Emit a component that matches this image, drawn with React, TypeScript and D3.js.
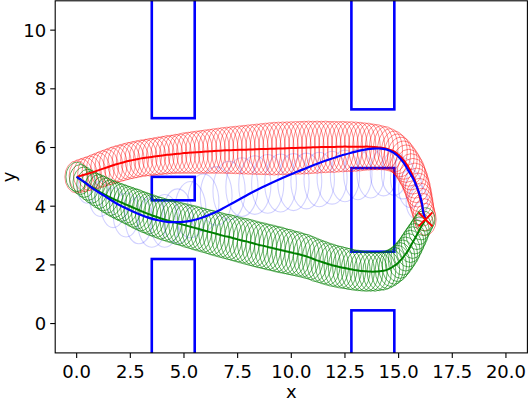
import React from 'react';
import * as d3 from 'd3';

// track points: [x, y, rx, ry] (rx/ry = spread of the ellipse in data units)
const redTrack: number[][] = [
  [0.0, 5.0, .55, .55], [0.2, 5.04, .55, .57], [0.4, 5.08, .55, .58], [0.6, 5.12, .55, .59], [0.8, 5.17, .55, .6],
  [1.0, 5.22, .55, .61], [1.2, 5.27, .55, .62], [1.4, 5.32, .55, .62], [1.6, 5.37, .55, .63], [1.8, 5.42, .55, .63],
  [2.0, 5.46, .55, .63], [2.2, 5.5, .55, .63], [2.4, 5.54, .55, .63], [2.6, 5.57, .55, .63], [2.8, 5.6, .55, .63],
  [3.0, 5.63, .55, .63], [3.2, 5.65, .55, .63], [3.4, 5.67, .55, .64], [3.6, 5.69, .55, .64], [3.8, 5.71, .55, .65],
  [4.0, 5.73, .55, .65], [4.2, 5.75, .54, .66], [4.4, 5.76, .54, .66], [4.6, 5.78, .54, .67], [4.8, 5.79, .54, .68],
  [5.0, 5.81, .54, .69], [5.2, 5.82, .54, .7], [5.4, 5.83, .53, .71], [5.6, 5.84, .53, .72], [5.8, 5.85, .53, .73],
  [6.0, 5.86, .53, .74], [6.2, 5.87, .53, .75], [6.4, 5.88, .53, .76], [6.6, 5.89, .52, .77], [6.8, 5.9, .52, .78],
  [7.0, 5.905, .52, .79], [7.2, 5.91, .52, .8], [7.4, 5.915, .52, .81], [7.6, 5.92, .52, .82], [7.8, 5.925, .52, .83],
  [8.0, 5.93, .52, .84], [8.2, 5.935, .52, .85], [8.4, 5.94, .52, .86], [8.6, 5.945, .52, .87], [8.8, 5.95, .52, .88],
  [9.0, 5.955, .52, .89], [9.2, 5.96, .52, .9], [9.4, 5.965, .52, .9], [9.6, 5.97, .52, .9], [9.8, 5.975, .52, .9],
  [10.0, 5.98, .52, .9], [10.2, 5.985, .52, .9], [10.4, 5.99, .52, .9], [10.6, 5.995, .52, .9], [10.8, 6.0, .52, .9],
  [11.0, 6.005, .52, .89], [11.2, 6.01, .52, .89], [11.4, 6.015, .52, .88], [11.6, 6.02, .52, .88], [11.8, 6.02, .52, .87],
  [12.0, 6.02, .52, .87], [12.2, 6.025, .52, .86], [12.4, 6.03, .52, .86], [12.6, 6.03, .52, .85], [12.8, 6.03, .52, .85],
  [13.0, 6.03, .53, .84], [13.2, 6.03, .53, .83], [13.4, 6.03, .54, .81], [13.6, 6.03, .54, .8], [13.8, 6.02, .55, .78],
  [14.0, 6.01, .55, .77], [14.2, 5.99, .56, .75], [14.4, 5.97, .57, .74], [14.6, 5.92, .58, .72], [14.8, 5.86, .6, .7],
  [14.95, 5.78, .61, .68], [15.1, 5.68, .62, .67], [15.23, 5.57, .63, .65], [15.35, 5.45, .64, .64], [15.47, 5.31, .64, .63],
  [15.58, 5.17, .64, .62], [15.67, 5.02, .63, .61], [15.76, 4.87, .62, .6], [15.83, 4.71, .61, .59], [15.9, 4.55, .6, .58],
  [15.96, 4.38, .58, .57], [16.02, 4.22, .56, .57], [16.08, 4.05, .54, .56], [16.13, 3.88, .52, .56], [16.19, 3.71, .51, .55],
  [16.25, 3.55, .5, .55],
];

const greenTrack: number[][] = [
  [0.0, 5.0, .5, .5], [0.18, 4.91, .51, .51], [0.35, 4.82, .52, .52], [0.53, 4.73, .53, .53], [0.7, 4.65, .54, .55],
  [0.88, 4.57, .54, .56], [1.05, 4.5, .55, .58], [1.23, 4.43, .55, .59], [1.4, 4.36, .56, .6], [1.58, 4.29, .56, .61],
  [1.75, 4.23, .57, .62], [1.93, 4.17, .57, .63], [2.1, 4.12, .58, .64], [2.28, 4.06, .58, .65], [2.45, 4.01, .58, .66],
  [2.63, 3.95, .58, .67], [2.8, 3.9, .59, .68], [2.98, 3.84, .59, .68], [3.15, 3.79, .59, .69], [3.33, 3.74, .59, .69],
  [3.5, 3.69, .6, .7], [3.7, 3.64, .6, .7], [3.9, 3.59, .6, .71], [4.1, 3.54, .6, .71], [4.3, 3.5, .6, .72],
  [4.5, 3.46, .6, .72], [4.7, 3.42, .6, .73], [4.9, 3.38, .6, .73], [5.1, 3.34, .6, .74], [5.3, 3.3, .6, .74],
  [5.5, 3.26, .6, .75], [5.7, 3.22, .6, .75], [5.9, 3.18, .6, .75], [6.1, 3.14, .6, .75], [6.3, 3.1, .61, .76],
  [6.5, 3.06, .61, .76], [6.7, 3.02, .61, .76], [6.9, 2.98, .61, .76], [7.1, 2.95, .61, .77], [7.3, 2.91, .61, .77],
  [7.5, 2.87, .61, .77], [7.7, 2.83, .61, .77], [7.9, 2.8, .61, .78], [8.1, 2.76, .61, .78], [8.3, 2.72, .61, .78],
  [8.5, 2.68, .61, .78], [8.7, 2.65, .61, .78], [8.9, 2.61, .61, .78], [9.1, 2.58, .61, .78], [9.3, 2.54, .61, .78],
  [9.5, 2.51, .61, .78], [9.7, 2.47, .6, .77], [9.9, 2.44, .6, .77], [10.1, 2.4, .6, .76], [10.3, 2.37, .6, .76],
  [10.5, 2.33, .6, .75], [10.7, 2.29, .6, .75], [10.9, 2.24, .59, .74], [11.1, 2.18, .59, .74], [11.3, 2.13, .58, .73],
  [11.5, 2.08, .58, .73], [11.7, 2.03, .58, .72], [11.9, 1.99, .58, .72], [12.1, 1.95, .57, .71], [12.3, 1.92, .57, .71],
  [12.5, 1.89, .57, .7], [12.7, 1.86, .57, .7], [12.9, 1.83, .57, .69], [13.1, 1.81, .57, .69], [13.3, 1.79, .57, .68],
  [13.5, 1.78, .57, .68], [13.7, 1.77, .57, .67], [13.9, 1.77, .57, .67], [14.1, 1.78, .57, .66], [14.3, 1.8, .57, .66],
  [14.48, 1.84, .57, .65], [14.65, 1.9, .57, .64], [14.8, 1.97, .57, .63], [14.95, 2.05, .57, .62], [15.08, 2.15, .56, .61],
  [15.2, 2.25, .56, .6], [15.33, 2.37, .55, .58], [15.45, 2.5, .55, .57], [15.55, 2.63, .54, .55], [15.65, 2.76, .53, .54],
  [15.75, 2.89, .51, .52], [15.85, 3.02, .5, .5], [15.95, 3.16, .48, .47], [16.05, 3.3, .47, .45], [16.15, 3.42, .46, .42],
  [16.25, 3.55, .45, .4],
];

const blueLine: number[][] = [
  [0.0, 5.0], [0.4, 4.8], [0.8, 4.58], [1.3, 4.35], [1.8, 4.12], [2.3, 3.93], [2.8, 3.76], [3.3, 3.62],
  [3.8, 3.52], [4.3, 3.46], [4.8, 3.46], [5.3, 3.5], [5.8, 3.6], [6.3, 3.74], [6.8, 3.92], [7.3, 4.12],
  [7.8, 4.32], [8.3, 4.52], [8.8, 4.7], [9.3, 4.87], [9.8, 5.03], [10.3, 5.18], [10.8, 5.33], [11.3, 5.47],
  [11.8, 5.6], [12.3, 5.72], [12.8, 5.82], [13.3, 5.91], [13.8, 5.96], [14.2, 5.96], [14.6, 5.89],
  [14.95, 5.72], [15.22, 5.49], [15.45, 5.22], [15.69, 4.92], [15.85, 4.65], [16.0, 4.35], [16.1, 4.05],
  [16.15, 3.78], [16.25, 3.55],
];

const blueCloud: number[][] = [
  [0.5, 4.6, 0.45, 0.5], [1.1, 4.25, 0.5, 0.6], [1.7, 3.95, 0.55, 0.68], [2.3, 3.7, 0.6, 0.75],
  [2.9, 3.52, 0.63, 0.8], [3.5, 3.45, 0.66, 0.85], [4.1, 3.5, 0.68, 0.9], [4.7, 3.66, 0.7, 0.93],
  [5.3, 3.88, 0.72, 0.96], [5.9, 4.12, 0.73, 0.98], [6.5, 4.35, 0.74, 1.0], [7.1, 4.53, 0.75, 1.0],
  [7.7, 4.65, 0.75, 1.0], [8.3, 4.72, 0.75, 1.0], [8.9, 4.76, 0.75, 1.0], [9.5, 4.79, 0.74, 0.99],
  [10.1, 4.82, 0.73, 0.97], [10.7, 4.86, 0.72, 0.95], [11.3, 4.91, 0.71, 0.93], [11.9, 4.97, 0.7, 0.9],
  [12.5, 5.03, 0.68, 0.88], [13.1, 5.08, 0.66, 0.86], [13.7, 5.12, 0.64, 0.84], [14.3, 5.15, 0.62, 0.8],
  [14.8, 5.12, 0.6, 0.75], [15.2, 4.95, 0.58, 0.7], [15.55, 4.6, 0.55, 0.65], [15.85, 4.15, 0.5, 0.6],
];

// obstacles: [x0, x1, y0, y1]
const walls: number[][] = [
  [3.5, 5.5, -2, 2.2], [3.5, 5.5, 4.2, 5.0], [3.5, 5.5, 7.0, 12],
  [12.8, 14.8, -2, 0.45], [12.8, 14.8, 2.45, 5.3], [12.8, 14.8, 7.3, 12],
];

const goal = [16.25, 3.55];

const xTicks = [0, 2.5, 5, 7.5, 10, 12.5, 15, 17.5, 20];
const yTicks = [0, 2, 4, 6, 8, 10];

const W = 530;
const H = 402;
const left = 55.2, right = 527.4, top = 0.8, bottom = 352.9;
const font = 'DejaVu Sans, sans-serif';

export default function App() {
  const x = d3.scaleLinear().domain([-1, 21]).range([left, right]);
  const y = d3.scaleLinear().domain([-1, 11]).range([bottom, top]);

  const line = d3.line<number[]>()
    .x(d => x(d[0]))
    .y(d => y(d[1]))
    .curve(d3.curveCatmullRom);

  const ellipses = (track: number[][], color: string, alpha: number, sw: number, key: string) =>
    track.map((d, i) => (
      <ellipse
        key={key + i}
        cx={x(d[0])}
        cy={y(d[1])}
        rx={x(d[2]) - x(0)}
        ry={y(0) - y(d[3])}
        fill="none"
        stroke={color}
        strokeOpacity={alpha}
        strokeWidth={sw}
      />
    ));

  return (
    <svg width={W} height={H} style={{ position: 'absolute', left: 0, top: 0, background: '#fff' }}>
      <defs>
        <clipPath id="plot">
          <rect x={left} y={top} width={right - left} height={bottom - top} />
        </clipPath>
      </defs>
      <g clipPath="url(#plot)">
        {walls.map((w, i) => (
          <rect key={'w' + i}
            x={x(w[0])} y={y(Math.max(w[2], w[3]))}
            width={x(w[1]) - x(w[0])} height={y(Math.min(w[2], w[3])) - y(Math.max(w[2], w[3]))}
            fill="none" stroke="#0000ff" strokeWidth={2.6} />
        ))}
        {ellipses(blueCloud, '#0000ff', 0.18, 1.1, 'b')}
        {ellipses(redTrack, '#ff0000', 0.45, 1, 'r')}
        {ellipses(greenTrack, '#008000', 0.62, 1, 'g')}
        <path d={line(redTrack) || ''} fill="none" stroke="#ff0000" strokeWidth={2} />
        <path d={line(greenTrack) || ''} fill="none" stroke="#008000" strokeWidth={2} />
        <path d={line(blueLine) || ''} fill="none" stroke="#0000ff" strokeWidth={2.2} />
        <g stroke="#ff0000" strokeWidth={2}>
          <line x1={x(goal[0]) - 7} y1={y(goal[1]) - 7} x2={x(goal[0]) + 7} y2={y(goal[1]) + 7} />
          <line x1={x(goal[0]) - 7} y1={y(goal[1]) + 7} x2={x(goal[0]) + 7} y2={y(goal[1]) - 7} />
        </g>
      </g>

      <rect x={left} y={top} width={right - left} height={bottom - top} fill="none" stroke="#000" strokeWidth={1.1} />

      {xTicks.map(t => (
        <g key={'xt' + t}>
          <line x1={x(t)} x2={x(t)} y1={bottom} y2={bottom + 5} stroke="#000" strokeWidth={1.1} />
          <text x={x(t)} y={378} textAnchor="middle" fontFamily={font} fontSize={18}>{t.toFixed(1)}</text>
        </g>
      ))}
      {yTicks.map(t => (
        <g key={'yt' + t}>
          <line x1={left - 5} x2={left} y1={y(t)} y2={y(t)} stroke="#000" strokeWidth={1.1} />
          <text x={left - 9} y={y(t)} dy="0.36em" textAnchor="end" fontFamily={font} fontSize={18}>{t}</text>
        </g>
      ))}
      <text x={(left + right) / 2} y={398} textAnchor="middle" fontFamily={font} fontSize={18}>x</text>
      <text transform={`translate(15,${(top + bottom) / 2}) rotate(-90)`} textAnchor="middle" fontFamily={font} fontSize={18}>y</text>
    </svg>
  );
}
